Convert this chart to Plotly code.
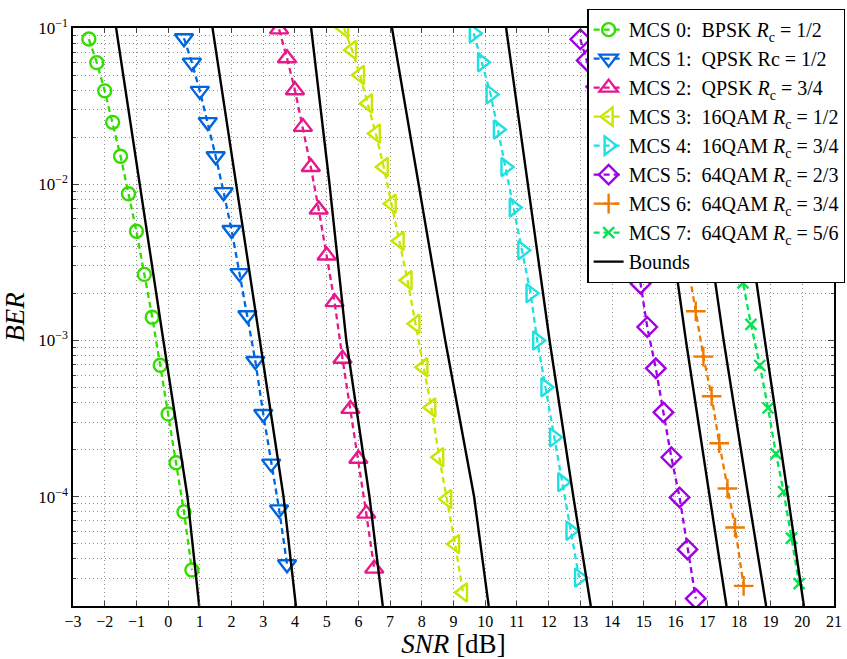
import plotly.graph_objects as go

# ---------------- data ----------------
labels = [
    "MCS 0:  BPSK <i>R</i><sub>c</sub> = 1/2",
    "MCS 1:  QPSK Rc = 1/2",
    "MCS 2:  QPSK <i>R</i><sub>c</sub> = 3/4",
    "MCS 3:  16QAM <i>R</i><sub>c</sub> = 1/2",
    "MCS 4:  16QAM <i>R</i><sub>c</sub> = 3/4",
    "MCS 5:  64QAM <i>R</i><sub>c</sub> = 2/3",
    "MCS 6:  64QAM <i>R</i><sub>c</sub> = 3/4",
    "MCS 7:  64QAM <i>R</i><sub>c</sub> = 5/6",
]

snr0 = [-2.5, -2.25, -2, -1.75, -1.5, -1.25, -1, -0.75, -0.5, -0.25, 0, 0.25, 0.5, 0.75]
ber0 = [0.085, 0.060, 0.0396, 0.0249, 0.0151, 0.0087, 0.0050, 0.00265, 0.00141,
        0.000695, 0.000339, 0.000165, 8.0e-5, 3.4e-5]

snr1 = [0.5, 0.75, 1, 1.25, 1.5, 1.75, 2, 2.25, 2.5, 2.75, 3, 3.25, 3.5, 3.75]
ber1 = [0.086, 0.060, 0.0396, 0.025, 0.0151, 0.0089, 0.0051, 0.0027, 0.00145,
        0.00074, 0.000339, 0.000163, 8.3e-5, 3.7e-5]

snr2 = [3.5, 3.75, 4, 4.25, 4.5, 4.75, 5, 5.25, 5.5, 5.75, 6, 6.25, 6.5]
ber2 = [0.098, 0.064, 0.040, 0.0233, 0.0129, 0.00689, 0.0035, 0.00176, 0.000764,
        0.000365, 0.000175, 7.8e-5, 3.47e-5]

snr3 = [5.55, 5.8, 6.05, 6.3, 6.55, 6.8, 7.05, 7.3, 7.55, 7.8, 8.05, 8.3, 8.55, 8.8, 9.05, 9.3]
ber3 = [0.0995, 0.0723, 0.050, 0.0329, 0.0211, 0.0129, 0.0075, 0.00433, 0.00243,
        0.00128, 0.000675, 0.000373, 0.000179, 9.66e-5, 4.98e-5, 2.44e-5]

snr4 = [9.64, 9.9, 10.17, 10.4, 10.64, 10.9, 11.17, 11.43, 11.64, 11.9, 12.17, 12.43, 12.69, 12.96]
ber4 = [0.0924, 0.0603, 0.0376, 0.0224, 0.0129, 0.0071, 0.00378, 0.00201, 0.001,
        0.000502, 0.00024, 0.000124, 6.06e-5, 3.04e-5]

snr5 = [13.0, 13.2, 13.5, 13.8, 14.05, 14.3, 14.6, 14.9, 15.11, 15.38, 15.62, 15.87, 16.13, 16.38, 16.64]
ber5 = [0.0847, 0.062, 0.042, 0.027, 0.016, 0.0095, 0.0048, 0.00231, 0.00122,
        0.000664, 0.000347, 0.000179, 9.9e-5, 4.6e-5, 2.23e-5]

snr6 = [14.9, 15.15, 15.4, 15.65, 15.9, 16.15, 16.4, 16.64, 16.88, 17.14, 17.38, 17.64, 17.88, 18.15]
ber6 = [0.095, 0.06, 0.035, 0.02, 0.011, 0.0058, 0.003, 0.00154, 0.000789, 0.00044,
        0.00022, 0.000113, 6.36e-5, 2.69e-5]

snr7 = [16.65, 16.9, 17.15, 17.4, 17.65, 17.9, 18.13, 18.38, 18.66, 18.92, 19.17, 19.41, 19.66, 19.90]
ber7 = [0.085, 0.05, 0.029, 0.016, 0.0085, 0.0045, 0.00234, 0.00127, 0.000692, 0.00037,
        0.000188, 0.000108, 5.43e-5, 2.78e-5]

# bounds: SNR at which each bound crosses these BER levels
bound_ber = [1e-1, 1e-2, 1e-3, 1e-4, 2e-5]
bound0 = [-1.64, -0.905, -0.15, 0.61, 0.98]
bound1 = [1.40, 2.15, 2.88, 3.64, 4.03]
bound2 = [4.51, 5.09, 5.62, 6.35, 6.77]
bound3 = [7.06, 7.90, 8.74, 9.65, 10.11]
bound4 = [10.66, 11.35, 12.03, 12.78, 13.33]
bound5 = [14.95, 15.63, 16.33, 17.08, 17.61]
bound6 = [16.1, 16.8, 17.52, 18.3, 18.86]
bound7 = [17.4, 18.1, 18.82, 19.55, 20.05]

x_ticks = list(range(-3, 22))
y_ticks = [1e-4, 1e-3, 1e-2, 1e-1]
y_ticktext = ["10<sup>−4</sup>", "10<sup>−3</sup>", "10<sup>−2</sup>", "10<sup>−1</sup>"]

# ---------------- styles ----------------
colors = ["#33dd00", "#0066dd", "#e6198c", "#c8e600", "#1ee0e0", "#a000e6", "#ef7a00", "#00e650"]
symbols = ["circle-open", "triangle-down-open", "triangle-up-open", "triangle-left-open",
           "triangle-right-open", "diamond-open", "cross-thin-open", "x-thin-open"]
sizes = [13, 16, 16, 16, 16, 15, 14, 11]

series = [(snr0, ber0), (snr1, ber1), (snr2, ber2), (snr3, ber3),
          (snr4, ber4), (snr5, ber5), (snr6, ber6), (snr7, ber7)]

fig = go.Figure()
FONT = "Liberation Serif"

for i, (sx, sy) in enumerate(series):
    fig.add_trace(go.Scatter(
        x=sx, y=sy, mode="lines+markers", name=labels[i],
        line=dict(color=colors[i], width=2.3, dash="6px,4px"),
        marker=dict(symbol=symbols[i], size=sizes[i], color=colors[i],
                    line=dict(color=colors[i], width=2.4)),
    ))

bx, by = [], []
for b in [bound0, bound1, bound2, bound3, bound4, bound5, bound6, bound7]:
    bx += b + [None]
    by += bound_ber + [None]
fig.add_trace(go.Scatter(x=bx, y=by, mode="lines", name="Bounds",
                         line=dict(color="black", width=2.4), connectgaps=False))

minor_vals = []
for d in [1e-5, 1e-4, 1e-3, 1e-2]:
    for m in range(2, 10):
        minor_vals.append(m * d)

grid_col = "#8f8f8f"
grid_dash = "1px,3px"
fig.update_layout(
    width=847, height=659,
    margin=dict(l=73, r=13, t=28, b=53, autoexpand=False),
    paper_bgcolor="white", plot_bgcolor="white",
    font=dict(family=FONT, color="black", size=15),
    showlegend=True,
    legend=dict(x=0.676, y=1.033, xanchor="left", yanchor="top",
                bgcolor="white", bordercolor="black", borderwidth=1.2,
                font=dict(family=FONT, size=20), tracegroupgap=0),
    xaxis=dict(range=[-3, 21], tickvals=x_ticks, ticks="inside", ticklen=5,
               showline=True, linecolor="black", linewidth=1.5, mirror="ticks",
               showgrid=True, gridcolor=grid_col, griddash=grid_dash, gridwidth=1,
               zeroline=False, tickfont=dict(size=16),
               title=dict(text="<i>SNR</i> [dB]", font=dict(size=27), standoff=0)),
    yaxis=dict(type="log", range=[-4.699, -1], tickvals=y_ticks, ticktext=y_ticktext,
               ticks="inside", ticklen=6,
               showline=True, linecolor="black", linewidth=1.5, mirror="ticks",
               showgrid=True, gridcolor=grid_col, griddash=grid_dash, gridwidth=1,
               zeroline=False, tickfont=dict(size=17),
               minor=dict(tickmode="array", tickvals=minor_vals, ticks="inside", ticklen=3,
                          showgrid=True, gridcolor=grid_col, griddash=grid_dash, gridwidth=1),
               title=dict(text="<i>BER</i>", font=dict(size=27), standoff=9)),
)

fig.write_html("out.html", config={"displayModeBar": False},
               post_script="document.body.style.margin='0px';document.body.style.overflow='hidden';")
